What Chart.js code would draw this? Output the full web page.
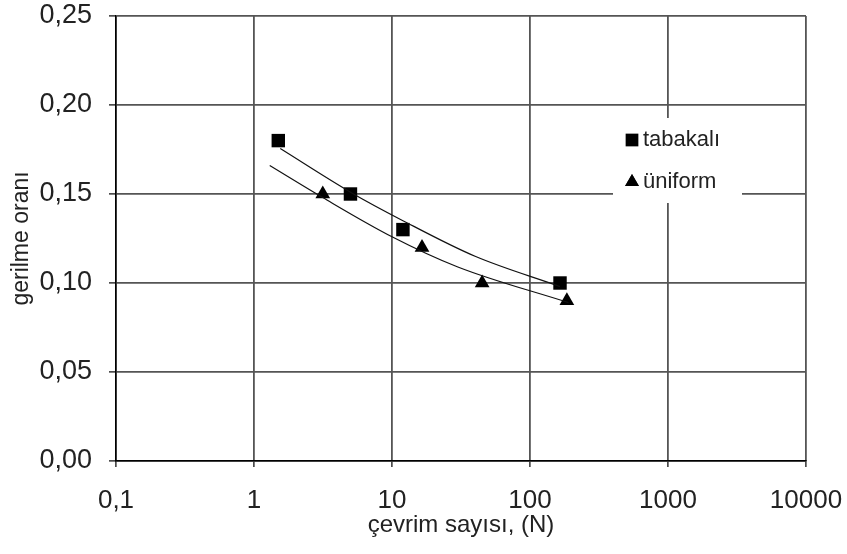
<!DOCTYPE html>
<html>
<head>
<meta charset="utf-8">
<script src="https://cdn.jsdelivr.net/npm/chart.js@4/dist/chart.umd.min.js"></script>
<style>
  body { margin: 0; background: #fff; }
  #chartCanvas { display: block; }
</style>
</head>
<body>
<canvas id="chartCanvas" width="847" height="554"></canvas>
<script>
// measured points
const tabakaliX = [1.5, 5, 12, 165];
const tabakaliY = [0.18, 0.15, 0.13, 0.10];
const uniformX = [3.15, 16.5, 45, 185];
const uniformY = [0.15, 0.12, 0.10, 0.09];

// trend lines
const tabakaliTrendX = [1.55, 5, 12, 40, 165];
const tabakaliTrendY = [0.1755, 0.151, 0.135, 0.115, 0.098];
const uniformTrendX = [1.3, 3.15, 10, 30, 190];
const uniformTrendY = [0.166, 0.148, 0.126, 0.109, 0.089];

const xTicks = [0.1, 1, 10, 100, 1000, 10000];
const yTicks = [0, 0.05, 0.10, 0.15, 0.20, 0.25];

const seriesLabels = ['tabakalı', 'üniform'];

const toPoints = (xs, ys) => xs.map((x, i) => ({ x: x, y: ys[i] }));
const comma = v => String(v).replace('.', ',');

const FONT = 'Liberation Sans, Arial, sans-serif';
const TEXT = '#222';

const legendBox = {
    id: 'legendBox',
    afterDatasetsDraw(chart) {
        const ctx = chart.ctx;
        ctx.save();
        ctx.fillStyle = '#fff';
        ctx.fillRect(613, 118, 129, 85);
        const items = chart.data.datasets.filter(d => d.inLegend);
        items.forEach((ds, i) => {
            const y = 140 + i * 42;
            Chart.helpers.drawPoint(ctx, {
                pointStyle: ds.pointStyle,
                radius: ds.legendRadius,
                borderWidth: 0
            }, 632, y);
            ctx.fillStyle = '#000';
            ctx.fill();
            ctx.fillStyle = TEXT;
            ctx.font = '22px ' + FONT;
            ctx.textBaseline = 'middle';
            ctx.textAlign = 'left';
            ctx.fillText(ds.label, 643, y);
        });
        ctx.restore();
    }
};

const ctx = document.getElementById('chartCanvas').getContext('2d');

new Chart(ctx, {
    type: 'scatter',
    data: {
        datasets: [
            {
                label: 'tabakalı trend',
                data: toPoints(tabakaliTrendX, tabakaliTrendY),
                showLine: true,
                borderColor: '#111',
                borderWidth: 1.2,
                pointRadius: 0,
                cubicInterpolationMode: 'monotone'
            },
            {
                label: 'üniform trend',
                data: toPoints(uniformTrendX, uniformTrendY),
                showLine: true,
                borderColor: '#111',
                borderWidth: 1.2,
                pointRadius: 0,
                cubicInterpolationMode: 'monotone'
            },
            {
                label: seriesLabels[0],
                data: toPoints(tabakaliX, tabakaliY),
                pointStyle: 'rect',
                pointRadius: 9.5,
                legendRadius: 9,
                backgroundColor: '#000',
                borderColor: '#000',
                borderWidth: 0,
                inLegend: true
            },
            {
                label: seriesLabels[1],
                data: toPoints(uniformX, uniformY),
                pointStyle: 'triangle',
                pointRadius: 8.5,
                legendRadius: 8,
                backgroundColor: '#000',
                borderColor: '#000',
                borderWidth: 0,
                inLegend: true
            }
        ]
    },
    options: {
        responsive: false,
        animation: false,
        layout: {
            padding: { top: 16, right: 41, bottom: 0, left: 0 }
        },
        plugins: {
            legend: { display: false },
            tooltip: { enabled: false }
        },
        scales: {
            x: {
                type: 'logarithmic',
                min: 0.1,
                max: 10000,
                afterBuildTicks: scale => {
                    scale.ticks = xTicks.map(v => ({ value: v }));
                },
                afterFit: scale => {
                    scale.height = 93;
                    scale.paddingLeft = 0;
                    scale.paddingRight = 0;
                },
                border: { color: '#000', width: 1.5 },
                grid: {
                    color: '#555',
                    lineWidth: 1.8,
                    tickColor: '#000',
                    tickLength: 6,
                    tickWidth: 1.2
                },
                ticks: {
                    autoSkip: false,
                    maxRotation: 0,
                    padding: 18,
                    color: TEXT,
                    font: { family: FONT, size: 26 },
                    callback: v => comma(v)
                },
                title: {
                    display: true,
                    text: 'çevrim sayısı, (N)',
                    color: TEXT,
                    font: { family: FONT, size: 24 },
                    padding: { top: 0, bottom: 14 }
                }
            },
            y: {
                min: 0,
                max: 0.25,
                afterBuildTicks: scale => {
                    scale.ticks = yTicks.map(v => ({ value: v }));
                },
                afterFit: scale => {
                    scale.width = 116;
                    scale.paddingTop = 0;
                    scale.paddingBottom = 0;
                },
                border: { color: '#000', width: 1.5 },
                grid: {
                    color: '#555',
                    lineWidth: 1.8,
                    tickColor: '#000',
                    tickLength: 7,
                    tickWidth: 1.2
                },
                ticks: {
                    padding: 17,
                    color: TEXT,
                    font: { family: FONT, size: 27 },
                    callback: v => v.toFixed(2).replace('.', ',')
                },
                title: {
                    display: true,
                    text: 'gerilme oranı',
                    color: TEXT,
                    font: { family: FONT, size: 23 },
                    padding: { top: 8, bottom: 0 }
                }
            }
        }
    },
    plugins: [legendBox]
});
</script>
</body>
</html>
